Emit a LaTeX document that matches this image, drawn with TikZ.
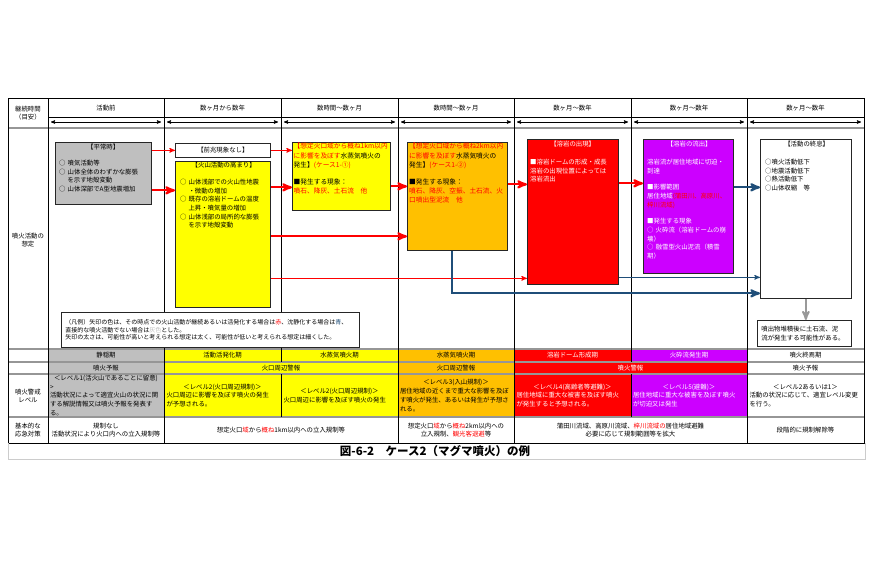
\documentclass[tikz,border=0pt]{standalone}
\usepackage{fontspec}
\setmainfont{Noto Sans CJK JP}
\usepackage{tikz}
\usetikzlibrary{arrows,calc,positioning}

\definecolor{calmgray}{RGB}{191,191,191}
\definecolor{warnyellow}{RGB}{255,255,0}
\definecolor{warnorange}{RGB}{255,192,0}
\definecolor{alertred}{RGB}{255,0,0}
\definecolor{alertviolet}{RGB}{204,0,255}
\definecolor{calmblue}{RGB}{31,78,121}
\definecolor{rulegray}{RGB}{150,150,150}

\newcommand{\boxtitle}[1]{\makebox[\linewidth]{#1}}
\newcommand{\rtext}[1]{\textcolor{red}{#1}}
\newcommand{\indt}{\hspace*{1.3em}}
\newcommand{\smallfont}{\fontsize{6.4}{8.7}\selectfont}
\newcommand{\boxfont}{\fontsize{6.7}{9.2}\selectfont}

\begin{document}
\begin{tikzpicture}[
        x=1pt, y=-1pt,
        every node/.style={font=\smallfont, inner sep=0pt, align=center},
        box/.style={draw=black!85, line width=0.7pt, anchor=north west, inner sep=0pt},
        box text/.style={anchor=north west, align=left},
        level text/.style={align=left, text width=112pt},
        table line/.style={line width=0.7pt},
        row line/.style={draw=rulegray, line width=1.1pt},
        span/.style={line width=0.6pt, <->, >=stealth'},
        red pile/.style={draw=red, line width=2.2pt, ->, >=stealth'},
        thin red/.style={draw=red, line width=1pt, ->, >=stealth'},
        blue pile/.style={draw=calmblue, line width=2.2pt, ->, >=stealth'},
        thin blue/.style={draw=calmblue, line width=1pt, ->, >=stealth'},
        gray pile/.style={draw=black!40, line width=2pt, ->, >=stealth'}
    ]
    \useasboundingbox (0,0) rectangle (892,573);

    % lower table fills
    \fill[calmgray] (48,349) rectangle (164,417);
    \fill[warnyellow] (164,349) rectangle (398,417);
    \fill[warnorange] (398,349) rectangle (514,417);
    \fill[alertred] (514,349) rectangle (747,417);
    \fill[alertviolet] (631,349) rectangle (747,362);
    \fill[alertviolet] (631,374) rectangle (747,417);

    % table lines
    \foreach \y in {128,349,362,374,417}
        \draw[row line] (8,\y) -- (864,\y);
    \draw[table line] (8,98) rectangle (864,443);
    \draw[table line] (48,117) -- (864,117);
    \foreach \x in {48,164,398,514,747}
        \draw[table line] (\x,98) -- (\x,443);
    \foreach \x in {281,631} {
        \draw[table line] (\x,98) -- (\x,362);
        \draw[table line] (\x,374) -- (\x,417);
    }
    \draw[draw=black!20, line width=1pt] (8,443) -- (8,459) -- (865,459) -- (865,443);

    % header
    \node (lead) at (28,113) {継続時間\\（目安）};
    \node (t1) at (106,108) {活動前};
    \node (t2) at (222.5,108) {数ヶ月から数年};
    \node (t3) at (339.5,108) {数時間〜数ヶ月};
    \node (t4) at (456,108) {数時間〜数ヶ月};
    \node (t5) at (572.5,108) {数ヶ月〜数年};
    \node (t6) at (689,108) {数ヶ月〜数年};
    \node (t7) at (805.5,108) {数ヶ月〜数年};
    \foreach \a/\b in {48/164,164/281,281/398,398/514,514/631,631/747,747/864}
        \draw[span] (\a+3,122) -- (\b-3,122);

    \node (scen) at (28,240) {噴火活動の\\想定};

    % scenario boxes
    \node[box, fill=calmgray, minimum width=96pt, minimum height=62pt] (calm) at (55,142) {};
    \node[box text, text width=88pt] (calmtext) at (59,144) {%
        \boxtitle{【平常時】}\\[7pt]
        ○ 噴気活動等\\
        ○ 山体全体のわずかな膨張\\
        \indt を示す地殻変動\\
        ○ 山体深部でA型地震増加};

    \node[box, fill=white, minimum width=95pt, minimum height=14pt] (none) at (175,143) {【前兆現象なし】};

    \node[box, fill=warnyellow, minimum width=95pt, minimum height=146pt] (rise) at (175,161) {};
    \node[box text, text width=87pt] (risetext) at (180,162) {%
        \boxtitle{【火山活動の高まり】}\\[8pt]
        ○ 山体浅部での火山性地震\\
        \indt ・微動の増加\\
        ○ 既存の溶岩ドームの温度\\
        \indt 上昇・噴気量の増加\\
        ○ 山体浅部の局所的な膨張\\
        \indt を示す地殻変動};

    \node[box, fill=warnyellow, minimum width=98pt, minimum height=68pt] (phr1) at (292,142) {};
    \node[box text, text width=96pt, font=\boxfont] (phr1text) at (293.5,143) {%
        \rtext{【想定火口域から概ね1km以内}\\
        \rtext{に影響を及ぼす}水蒸気噴火の\\
        発生】\rtext{(ケース1-①)}\\[8pt]
        ■発生する現象：\\
        \rtext{噴石、降灰、土石流　他}};

    \node[box, fill=warnorange, minimum width=100pt, minimum height=108pt] (phr2) at (407,142) {};
    \node[box text, text width=97pt, font=\boxfont] (phr2text) at (409,143) {%
        \rtext{【想定火口域から概ね2km以内}\\
        \rtext{に影響を及ぼす}水蒸気噴火の\\
        発生】\rtext{(ケース1-②)}\\[8pt]
        ■発生する現象：\\
        \rtext{噴石、降灰、空振、土石流、火}\\
        \rtext{口噴出型泥流　他}};

    \node[box, fill=alertred, minimum width=91pt, minimum height=145pt] (dome) at (527,139) {};
    \node[box text, text width=85pt, text=white] (dometext) at (530,141) {%
        \boxtitle{【溶岩の出現】}\\[9pt]
        ■溶岩ドームの形成・成長\\
        溶岩の出現位置によっては\\
        溶岩流出};

    \node[box, fill=alertviolet, minimum width=90pt, minimum height=134pt] (flow) at (643,139) {};
    \node[box text, text width=84pt, text=white] (flowtext) at (647,141) {%
        \boxtitle{【溶岩の流出】}\\[9pt]
        溶岩流が居住地域に切迫・\\
        到達\\[8pt]
        ■影響範囲\\
        居住地域\rtext{(蒲田川、高原川、}\\
        \rtext{梓川流域)}\\[8pt]
        ■発生する現象\\
        ○ 火砕流（溶岩ドームの崩\\
        壊）\\
        ○ 融雪型火山泥流（積雪\\
        期）};

    \node[box, fill=white, minimum width=91pt, minimum height=159pt] (endact) at (760,139) {};
    \node[box text, text width=83pt] (endtext) at (765,141) {%
        \boxtitle{【活動の終息】}\\[9pt]
        ○噴火活動低下\\
        ○地震活動低下\\
        ○熱活動低下\\
        ○山体収縮　等};

    \node[box, fill=white, text width=86pt, align=left, inner xsep=4pt, minimum height=26pt] (note) at (757,320) {%
        噴出物堆積後に土石流、泥\\
        流が発生する可能性がある。};

    \node[box, fill=white, text width=290pt, align=left, inner xsep=4pt, minimum height=35pt,
        font=\fontsize{6}{7.6}\selectfont] (legend) at (61,312) {%
        （凡例）矢印の色は、その時点での火山活動が継続あるいは活発化する場合は\rtext{赤}、沈静化する場合は\textcolor{calmblue}{青}、\\
        直接的な噴火活動でない場合は\textcolor{black!25}{灰色}とした。\\
        矢印の太さは、可能性が高いと考えられる想定は太く、可能性が低いと考えられる想定は細くした。};

    % arrow levels
    \coordinate (g2) at ([yshift=-17pt]calm.east);
    \coordinate (y1) at ([yshift=-11pt]phr1.west);
    \coordinate (y2) at ([yshift=-40pt]phr2.west);
    \coordinate (y3) at ([yshift=-66.5pt]dome.west);
    \coordinate (o1) at ([yshift=10pt]phr2.west);
    \coordinate (o2) at ([yshift=27.5pt]dome.west);
    \coordinate (o3) at ([yshift=23pt]flow.west);
    \coordinate (b1) at ([yshift=31.5pt]endact.west);
    \coordinate (b2) at ([yshift=-58.5pt]endact.west);
    \coordinate (b3) at ([yshift=-74.5pt]endact.west);

    % arrows
    \draw[thin red] (calm.east |- none.west) -- (none.west);
    \draw[red pile] (g2) -- (g2 -| rise.west);
    \draw[thin red] (none.east) -- (none.east -| phr1.west);
    \draw[red pile] (rise.east |- y1) -- (y1);
    \draw[red pile] (rise.east |- y2) -- (y2);
    \draw[thin red] (rise.east |- y3) -- (y3);
    \draw[red pile] (phr1.east |- o1) -- (o1);
    \draw[red pile] (phr2.east |- o2) -- (o2);
    \draw[red pile] (dome.east |- o3) -- (o3);
    \draw[blue pile] (flow.east |- b1) -- (b1);
    \draw[thin blue] (dome.east |- b2) -- (b2);
    \draw[blue pile] ([xshift=-5pt]phr2.south) |- (b3);
    \draw[gray pile] (endact.south) -- (endact.south |- note.north);

    % phases
    \node (p1) at (106,355.5) {静穏期};
    \node (p2) at (222.5,355.5) {活動活発化期};
    \node (p3) at (339.5,355.5) {水蒸気噴火期};
    \node (p4) at (456,355.5) {水蒸気噴火期};
    \node[text=white] (p5) at (572.5,355.5) {溶岩ドーム形成期};
    \node[text=white] (p6) at (689,355.5) {火砕流発生期};
    \node (p7) at (805.5,355.5) {噴火終焉期};

    % forecasts
    \node (f1) at (106,368) {噴火予報};
    \node (f2) at (281,368) {火口周辺警報};
    \node (f3) at (456,368) {火口周辺警報};
    \node[text=white] (f4) at (630.5,368) {噴火警報};
    \node (f5) at (805.5,368) {噴火予報};

    % levels
    \node (lvlab) at (28,396) {噴火警戒\\レベル};
    \node[level text] (lv1) at (106,395.5) {%
        \boxtitle{＜レベル1(活火山であることに留意)}\\>\\
        活動状況によって適宜火山の状況に関\\
        する解説情報又は噴火予報を発表す\\る。};
    \node[level text] (lv2) at (222.5,395.5) {%
        \boxtitle{＜レベル2(火口周辺規制)＞}\\
        火口周辺に影響を及ぼす噴火の発生\\が予想される。};
    \node[level text] (lv3) at (339.5,395.5) {%
        \boxtitle{＜レベル2(火口周辺規制)＞}\\
        火口周辺に影響を及ぼす噴火の発生};
    \node[level text] (lv4) at (456,395.5) {%
        \boxtitle{＜レベル3(入山規制)＞}\\
        居住地域の近くまで重大な影響を及ぼ\\
        す噴火が発生、あるいは発生が予想さ\\れる。};
    \node[level text, text=white] (lv5) at (572.5,395.5) {%
        \boxtitle{＜レベル4(高齢者等避難)＞}\\
        居住地域に重大な被害を及ぼす噴火\\
        が発生すると予想される。};
    \node[level text, text=white] (lv6) at (689,395.5) {%
        \boxtitle{＜レベル5(避難)＞}\\
        居住地域に重大な被害を及ぼす噴火\\
        が切迫又は発生};
    \node[level text] (lv7) at (805.5,395.5) {%
        \boxtitle{＜レベル2あるいは1＞}\\
        活動の状況に応じて、適宜レベル変更\\を行う。};

    % measures
    \node (measlab) at (28,430) {基本的な\\応急対策};
    \node (m1) at (106,430) {規制なし\\活動状況により火口内への立入規制等};
    \node (m2) at (281,430) {想定火口\rtext{域}から\rtext{概ね}1km以内への立入規制等};
    \node (m3) at (456,430) {想定火口\rtext{域}から\rtext{概ね}2km以内への\\立入規制、\rtext{観光客退避}等};
    \node (m4) at (630.5,430) {蒲田川流域、高原川流域、\rtext{梓川流域の}居住地域避難\\必要に応じて規制範囲等を拡大};
    \node (m5) at (805.5,430) {段階的に規制解除等};

    \node[font=\fontsize{11.5}{13}\selectfont\bfseries] (cap) at (435,451.5) {図-6-2　ケース2（マグマ噴火）の例};
\end{tikzpicture}
\end{document}
